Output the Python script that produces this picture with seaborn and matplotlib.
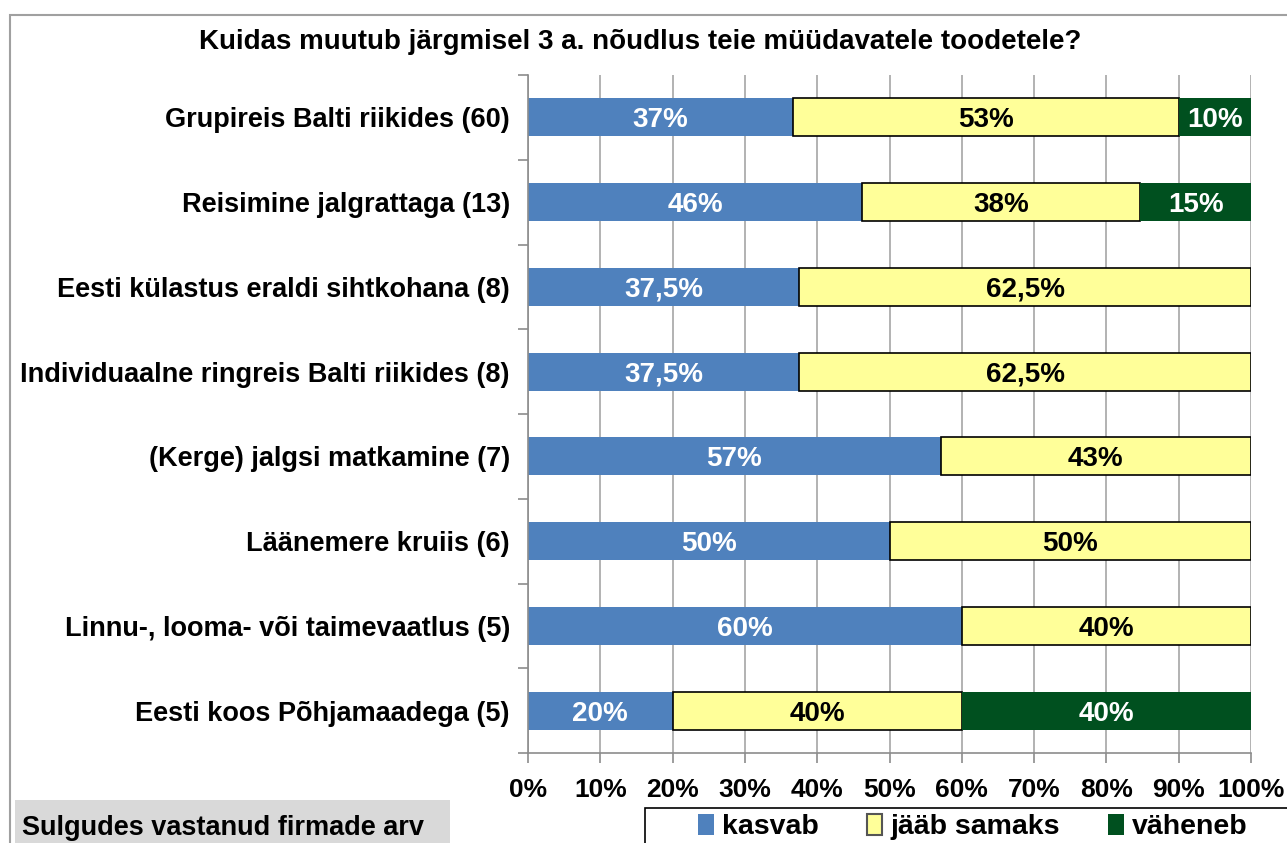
import matplotlib
matplotlib.use("Agg")
import matplotlib.pyplot as plt
from matplotlib.patches import Patch, Rectangle
from matplotlib.ticker import FixedLocator, PercentFormatter
import numpy as np
import pandas as pd
import seaborn as sns

categories = [
    "Grupireis Balti riikides (60)",
    "Reisimine jalgrattaga (13)",
    "Eesti külastus eraldi sihtkohana (8)",
    "Individuaalne ringreis Balti riikides (8)",
    "(Kerge) jalgsi matkamine (7)",
    "Läänemere kruiis (6)",
    "Linnu-, looma- või taimevaatlus (5)",
    "Eesti koos Põhjamaadega (5)",
]
kasvab = [36.7, 46.2, 37.5, 37.5, 57.1, 50.0, 60.0, 20.0]
jaab_samaks = [53.3, 38.5, 62.5, 62.5, 42.9, 50.0, 40.0, 40.0]
vaheneb = [10.0, 15.4, 0, 0, 0, 0, 0, 40.0]
kasvab_labels = ["37%", "46%", "37,5%", "37,5%", "57%", "50%", "60%", "20%"]
jaab_labels = ["53%", "38%", "62,5%", "62,5%", "43%", "50%", "40%", "40%"]
vaheneb_labels = ["10%", "15%", "", "", "", "", "", "40%"]
series_names = ["kasvab", "jääb samaks", "väheneb"]
title = "Kuidas muutub järgmisel 3 a. nõudlus teie müüdavatele toodetele?"
note = "Sulgudes vastanud firmade arv"

colors = ["#4F81BD", "#FFFF99", "#00501F"]
label_colors = ["white", "black", "white"]

sns.set_theme(style="white")
plt.rcParams["font.family"] = ["Liberation Sans", "DejaVu Sans"]
plt.rcParams["font.weight"] = "bold"
plt.rcParams["text.color"] = "black"

df = pd.DataFrame({"cat": categories, "k": kasvab, "j": jaab_samaks, "v": vaheneb})
left_j = np.array(kasvab)
left_v = np.array(kasvab) + np.array(jaab_samaks)

fig = plt.figure(figsize=(12.87, 8.43), dpi=100)
ax = fig.add_axes([528 / 1287, 90 / 843, 723 / 1287, 678 / 843])

bw = 0.45
sns.barplot(data=df, x="k", y="cat", orient="h", color=colors[0], width=bw,
            saturation=1, linewidth=0, ax=ax, order=categories)
sns.barplot(data=df, x="j", y="cat", orient="h", color=colors[1], width=bw,
            saturation=1, linewidth=1.2, edgecolor="black", left=left_j, ax=ax, order=categories)
sns.barplot(data=df, x="v", y="cat", orient="h", color=colors[2], width=bw,
            saturation=1, linewidth=0, left=left_v, ax=ax, order=categories)

for cont, labs, lc in zip(ax.containers, [kasvab_labels, jaab_labels, vaheneb_labels], label_colors):
    texts = ax.bar_label(cont, labels=labs, label_type="center", color=lc,
                         fontsize=20, fontweight="bold")
    for t in texts:
        t.set_va("center_baseline")

ax.set_xlim(0, 100)
ax.set_ylim(len(categories) - 0.5, -0.5)
ax.set_xlabel("")
ax.set_ylabel("")
ax.xaxis.set_major_locator(FixedLocator(np.arange(0, 101, 10)))
ax.xaxis.set_major_formatter(PercentFormatter(100, decimals=0))
ax.grid(axis="x", color="#A6A6A6", linewidth=1.2)
ax.set_axisbelow(True)
ax.yaxis.set_minor_locator(FixedLocator(np.arange(-0.5, len(categories), 1)))
ax.tick_params(axis="y", which="major", length=0, pad=13, labelsize=19.5, labelcolor="black")
ax.tick_params(axis="y", which="minor", length=7, color="#8C8C8C", width=1.2, left=True)
ax.tick_params(axis="x", which="major", length=7, color="#8C8C8C", width=1.2, bottom=True,
               labelsize=19, pad=11, labelcolor="black")
for lab in ax.get_yticklabels() + ax.get_xticklabels():
    lab.set_fontweight("bold")
for s in ["top", "right"]:
    ax.spines[s].set_visible(False)
for s in ["left", "bottom"]:
    ax.spines[s].set_color("#8C8C8C")
    ax.spines[s].set_linewidth(1.2)

fig.text(640 / 1287, 1 - 42 / 843, title, ha="center", va="center",
         fontsize=20, fontweight="bold")

# chart area border
fig.patches.append(Rectangle((10 / 1287, -0.1), 1.2, 1 - 15 / 843 + 0.1,
                             transform=fig.transFigure, fill=False,
                             edgecolor="#A0A0A0", linewidth=1.5))
# note box
fig.patches.append(Rectangle((15 / 1287, -0.05), 435 / 1287, (843 - 800) / 843 + 0.05,
                             transform=fig.transFigure, facecolor="#D9D9D9",
                             edgecolor="none"))
fig.text(22 / 1287, 1 - 828 / 843, note, ha="left", va="center",
         fontsize=19.5, fontweight="bold")

# legend frame (extends past the figure edge like the reference)
fig.patches.append(Rectangle((645 / 1287, -0.05), 0.6, (843 - 808) / 843 + 0.05,
                             transform=fig.transFigure, fill=False,
                             edgecolor="black", linewidth=1.2))
handles = [Patch(facecolor=colors[0], edgecolor="none"),
           Patch(facecolor=colors[1], edgecolor="#555555", linewidth=1.5),
           Patch(facecolor=colors[2], edgecolor="none")]
leg = fig.legend(handles, series_names, loc="center left",
                 bbox_to_anchor=(698 / 1287, 1 - 827 / 843), ncol=3,
                 frameon=False, prop={"size": 20.5, "weight": "bold"},
                 handlelength=0.55, handleheight=0.75, handletextpad=0.28,
                 columnspacing=1.7, borderpad=0, borderaxespad=0)

fig.savefig("out.png", dpi=100, facecolor="white")
